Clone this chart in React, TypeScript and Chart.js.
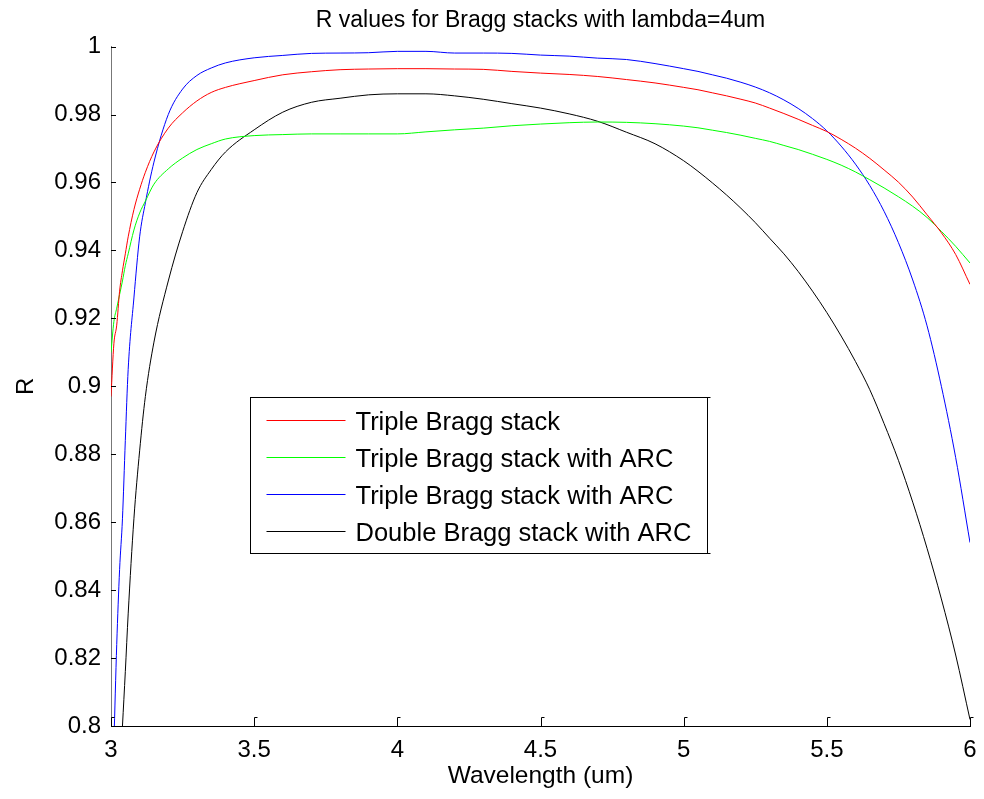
import React, { useEffect, useRef } from "react";
import { Chart, registerables } from "chart.js";

Chart.register(...registerables);

// ---------------- data ----------------
const wavelength = [
  3.0, 3.01, 3.02, 3.03, 3.04, 3.05, 3.06, 3.08, 3.1, 3.12, 3.15, 3.2, 3.25, 3.3, 3.35, 3.4,
  3.5, 3.6, 3.7, 3.8, 3.9, 4.0, 4.1, 4.2, 4.3, 4.4, 4.5, 4.6, 4.7, 4.8, 4.9,
  5.0, 5.05, 5.1, 5.15, 5.2, 5.25, 5.3, 5.35, 5.4, 5.45, 5.5, 5.55, 5.6, 5.65, 5.7, 5.75, 5.8,
  5.85, 5.9, 5.95, 6.0,
];

const tripleBragg = [
  0.897, 0.9125, 0.918, 0.928, 0.934, 0.939, 0.944, 0.952, 0.958, 0.963, 0.969, 0.976, 0.9805,
  0.984, 0.9865, 0.988, 0.99, 0.9917, 0.9926, 0.9932, 0.9934, 0.9935, 0.9935, 0.9934, 0.9933,
  0.9927, 0.9922, 0.9918, 0.9912, 0.9903, 0.9893,
  0.988, 0.9873, 0.9864, 0.9855, 0.9845, 0.9834, 0.9819, 0.9803, 0.9786, 0.9768, 0.975, 0.9727,
  0.9701, 0.9671, 0.9637, 0.9601, 0.9557, 0.9505, 0.9452, 0.9388, 0.93,
];

const tripleBraggArcA = [
  0.91, 0.919, 0.923, 0.927, 0.931, 0.9355, 0.939, 0.946, 0.951, 0.9545, 0.9595, 0.964, 0.9672,
  0.9697, 0.9714, 0.9728, 0.9738, 0.9741, 0.9743, 0.9743, 0.9743, 0.9743, 0.9749, 0.9755, 0.976,
  0.9767, 0.9772, 0.9776, 0.9778, 0.9777, 0.9773,
  0.9766, 0.9761, 0.9754, 0.9747, 0.9739, 0.973, 0.9721, 0.9709, 0.9697, 0.9683, 0.9668, 0.9651,
  0.9631, 0.9608, 0.9584, 0.9558, 0.953, 0.9497, 0.9456, 0.9412, 0.9363,
];

const tripleBraggArcB = [
  0.77, 0.795, 0.824, 0.846, 0.861, 0.884, 0.905, 0.926, 0.944, 0.954, 0.966, 0.98, 0.9875,
  0.9915, 0.9937, 0.9952, 0.9967, 0.9974, 0.998, 0.9981, 0.9982, 0.9986, 0.9986, 0.9981, 0.9981,
  0.998, 0.9975, 0.9972, 0.9966, 0.9962, 0.995,
  0.9935, 0.9927, 0.9917, 0.9907, 0.9895, 0.9881, 0.9864, 0.9843, 0.9818, 0.9788, 0.9752, 0.9707,
  0.9654, 0.9591, 0.9515, 0.9423, 0.9313, 0.9178, 0.9, 0.879, 0.854,
];

const doubleBraggArc = [
  0.73, 0.75, 0.768, 0.785, 0.8, 0.816, 0.833, 0.861, 0.881, 0.897, 0.913, 0.931, 0.9455, 0.957,
  0.9638, 0.969, 0.9755, 0.9807, 0.9836, 0.9848, 0.9858, 0.9861, 0.9861, 0.9855, 0.9845, 0.9832,
  0.9819, 0.9802, 0.978, 0.9748, 0.9714,
  0.9664, 0.9633, 0.9599, 0.9563, 0.9524, 0.9482, 0.9436, 0.939, 0.9338, 0.928, 0.9217, 0.9148,
  0.9073, 0.899, 0.889, 0.8782, 0.8659, 0.8523, 0.8374, 0.8209, 0.8019,
];

const seriesLabels = [
  "Triple Bragg stack",
  "Triple Bragg stack with ARC",
  "Triple Bragg stack with ARC",
  "Double Bragg stack with ARC",
];
const seriesColors = ["#ff0000", "#00ff00", "#0000ff", "#000000"];

const xTickValues = [3, 3.5, 4, 4.5, 5, 5.5, 6];
const yTickValues = [0.8, 0.82, 0.84, 0.86, 0.88, 0.9, 0.92, 0.94, 0.96, 0.98, 1];

const chartTitle = "R values for Bragg stacks with lambda=4um";
const xTitle = "Wavelength (um)";
const yTitle = "R";

const FONT = "'Liberation Sans', Arial, Helvetica, sans-serif";

// ---------------- plugins ----------------
const axisMarks = {
  id: "axisMarks",
  afterDraw(chart: any) {
    const { ctx, chartArea, scales } = chart;
    ctx.save();
    ctx.strokeStyle = "#000";
    ctx.lineWidth = 1;
    scales.y.ticks.forEach((t: any) => {
      const py = Math.round(scales.y.getPixelForValue(t.value)) + 0.5;
      ctx.beginPath();
      ctx.moveTo(chartArea.left, py);
      ctx.lineTo(chartArea.left + 5, py);
      ctx.stroke();
    });
    scales.x.ticks.forEach((t: any) => {
      const px = Math.round(scales.x.getPixelForValue(t.value)) + 0.5;
      const b = Math.round(chartArea.bottom);
      ctx.beginPath();
      ctx.moveTo(px, b);
      ctx.lineTo(px, b - 8.5);
      ctx.lineTo(px + 3, b - 8.5);
      ctx.stroke();
    });
    ctx.restore();
  },
};

const boxLegend = {
  id: "boxLegend",
  afterDraw(chart: any) {
    const { ctx, chartArea } = chart;
    const left = Math.round(chartArea.left + 139) + 0.5;
    const top = Math.round(chartArea.top + 350) + 0.5;
    const w = 457;
    const h = 156;
    ctx.save();
    ctx.fillStyle = "#fff";
    ctx.fillRect(left, top, w, h);
    ctx.strokeStyle = "#000";
    ctx.lineWidth = 1;
    ctx.strokeRect(left, top, w, h);
    ctx.beginPath();
    ctx.moveTo(left + w, top);
    ctx.lineTo(left + w + 3, top);
    ctx.moveTo(left + w, top + h);
    ctx.lineTo(left + w + 3, top + h);
    ctx.stroke();
    ctx.font = `25.5px ${FONT}`;
    ctx.textBaseline = "middle";
    ctx.textAlign = "left";
    seriesLabels.forEach((lab, i) => {
      const y = Math.round(top + 22 + i * 37.3) + 0.5;
      ctx.strokeStyle = seriesColors[i];
      ctx.beginPath();
      ctx.moveTo(left + 16, y);
      ctx.lineTo(left + 95, y);
      ctx.stroke();
      ctx.fillStyle = "#000";
      ctx.fillText(lab, left + 105, y + 2);
    });
    ctx.restore();
  },
};

// ---------------- component ----------------
export default function App() {
  const ref = useRef<HTMLCanvasElement | null>(null);

  useEffect(() => {
    if (!ref.current) return;
    const series = [tripleBragg, tripleBraggArcA, tripleBraggArcB, doubleBraggArc];
    const chart = new Chart(ref.current, {
      type: "line",
      data: {
        datasets: series.map((vals, i) => ({
          label: seriesLabels[i],
          data: wavelength.map((x, j) => ({ x, y: vals[j] })),
          borderColor: seriesColors[i],
          backgroundColor: seriesColors[i],
          borderWidth: 1,
          pointRadius: 0,
          cubicInterpolationMode: "monotone",
          fill: false,
        })),
      },
      options: {
        responsive: false,
        animation: false,
        devicePixelRatio: 1,
        layout: { padding: { left: 0, right: 14, top: 0, bottom: 0 } },
        plugins: {
          legend: { display: false },
          tooltip: { enabled: false },
          title: {
            display: true,
            text: chartTitle,
            fullSize: false,
            color: "#000",
            font: { family: FONT, size: 23, weight: "normal" },
            padding: { top: 7, bottom: 12 },
          },
        },
        scales: {
          x: {
            type: "linear",
            min: 3,
            max: 6,
            afterBuildTicks: (s: any) => {
              s.ticks = xTickValues.map((v) => ({ value: v }));
            },
            afterFit: (s: any) => {
              s.height = 73;
              s.paddingRight = 0;
              s.paddingLeft = 0;
            },
            grid: { display: false, drawTicks: false },
            border: { display: true, color: "#000", width: 1 },
            ticks: {
              color: "#000",
              font: { family: FONT, size: 24 },
              padding: 10,
              maxRotation: 0,
              autoSkip: false,
              callback: (v: any) => String(Number(Number(v).toFixed(2))),
            },
            title: {
              display: true,
              text: xTitle,
              color: "#000",
              font: { family: FONT, size: 24.5 },
              padding: { top: 0, bottom: 8 },
            },
          },
          y: {
            type: "linear",
            min: 0.8,
            max: 1,
            afterBuildTicks: (s: any) => {
              s.ticks = yTickValues.map((v) => ({ value: v }));
            },
            afterFit: (s: any) => {
              s.width = 111;
            },
            grid: { display: false, drawTicks: false },
            border: { display: true, color: "#777", width: 1 },
            ticks: {
              color: "#000",
              font: { family: FONT, size: 24 },
              padding: 10,
              autoSkip: false,
              callback: (v: any) => String(Number(Number(v).toFixed(2))),
            },
            title: {
              display: true,
              text: yTitle,
              color: "#000",
              font: { family: FONT, size: 24 },
              padding: { top: 12, bottom: 0 },
            },
          },
        },
      },
      plugins: [axisMarks, boxLegend],
    } as any);
    return () => chart.destroy();
  }, []);

  return (
    <div style={{ position: "fixed", left: 0, top: 0, width: 984, height: 799, background: "#fff" }}>
      <canvas ref={ref} width={984} height={799} style={{ width: 984, height: 799, display: "block" }} />
    </div>
  );
}
